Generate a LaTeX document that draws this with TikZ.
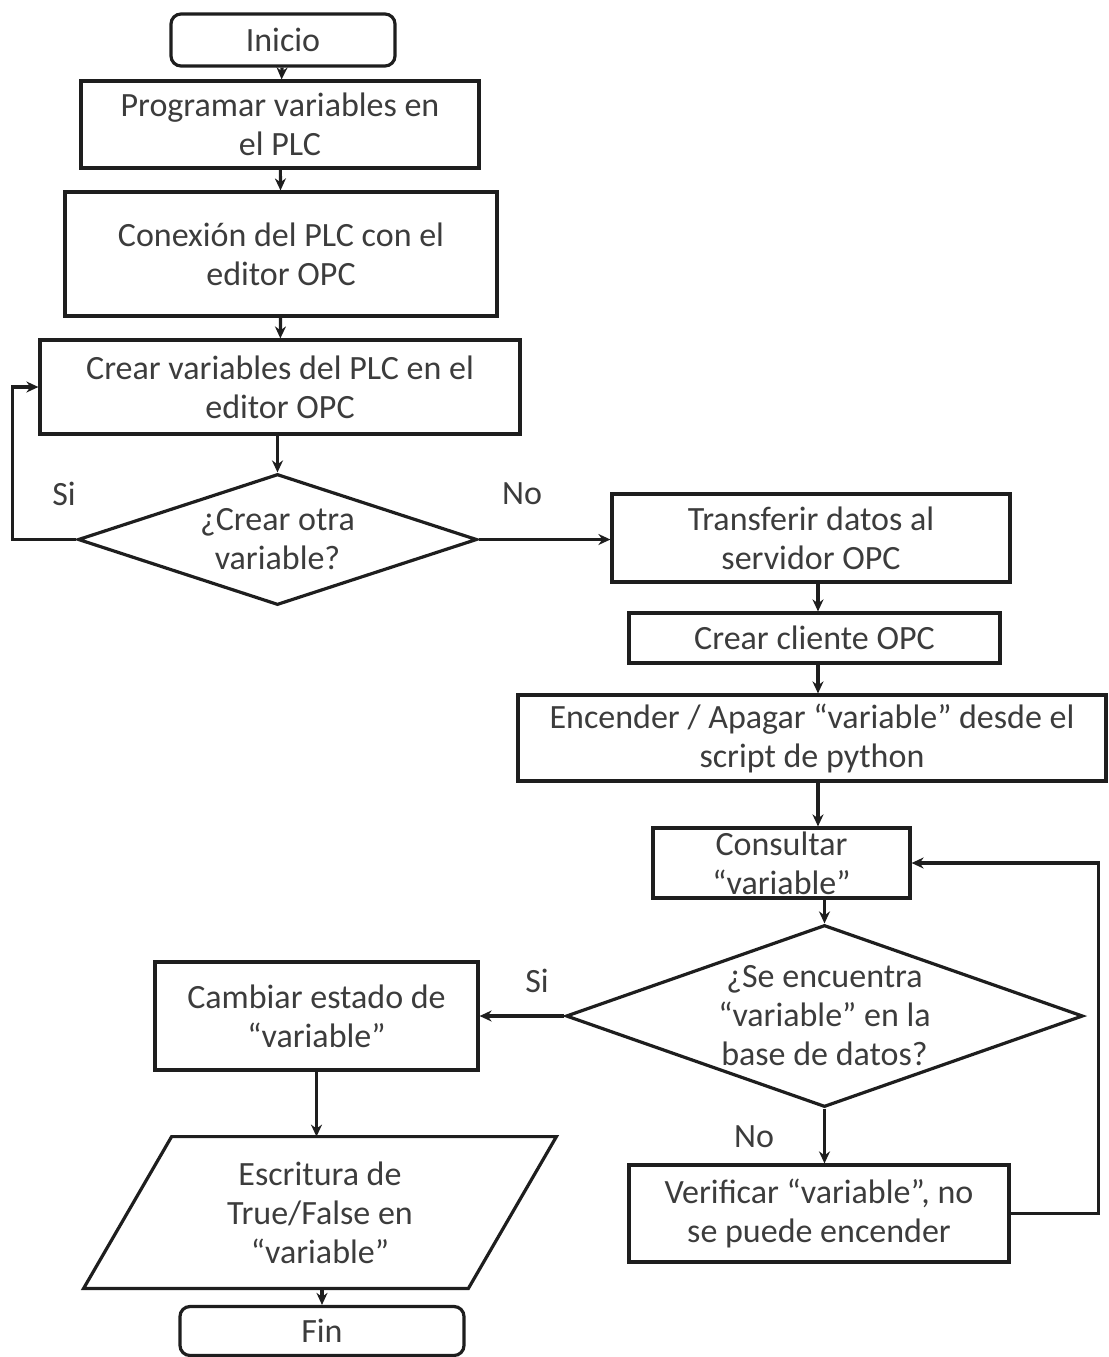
\documentclass[tikz,border=0pt]{standalone}
\usepackage{fontspec}
\setmainfont{Carlito}
\usetikzlibrary{arrows.meta,shapes.geometric}
\definecolor{txtgray}{HTML}{3C3C3C}
\definecolor{linegray}{HTML}{1E1E1E}
\begin{document}
\begin{tikzpicture}[x=0.5pt,y=-0.5pt,
  every node/.style={text=txtgray, font=\fontsize{17pt}{19.5pt}\selectfont, align=center},
  box/.style={draw=linegray, line width=1.6pt, rectangle, inner sep=0pt},
  term/.style={box, rounded corners=5pt},
  decision/.style={draw=linegray, line width=1.6pt, diamond, inner sep=0pt},
  arr/.style={draw=linegray, line width=1.6pt, -{Stealth[length=6pt,width=5.5pt]}},
  lbl/.style={text=txtgray}]
\useasboundingbox (0,0) rectangle (1109,1357);

% left column
\node[term, minimum width=112pt, minimum height=26pt] (ini) at (283,40) {Inicio};
\node[box, minimum width=199pt, minimum height=43.5pt] (prog) at (280,124.5) {Programar variables en\\el PLC};
\node[box, minimum width=216pt, minimum height=62pt] (con) at (281,254) {Conexión del PLC con el\\editor OPC};
\node[box, minimum width=240pt, minimum height=47pt] (crear) at (280,387) {Crear variables del PLC en el\\editor OPC};
\node[decision, minimum width=199.5pt, minimum height=65.5pt] (d1) at (277.5,539.5) {};
\node at (d1) {¿Crear otra\\variable?};

% right column
\node[box, minimum width=199pt, minimum height=44pt] (trans) at (811,538) {Transferir datos al\\servidor OPC};
\node[box, minimum width=185.5pt, minimum height=25pt] (cli) at (814.5,638) {Crear cliente OPC};
\node[box, minimum width=294pt, minimum height=43pt] (enc) at (812,738) {Encender / Apagar “variable” desde el\\script de python};
\node[box, minimum width=128.5pt, minimum height=35pt] (cons) at (781.5,863) {Consultar\\“variable”};
\node[decision, minimum width=258.5pt, minimum height=91pt] (d2) at (824.5,1016) {};
\node at (d2) {¿Se encuentra\\“variable” en la\\base de datos?};
\node[box, minimum width=190pt, minimum height=48.5pt] (ver) at (819,1213.5) {Verificar “variable”, no\\se puede encender};

% lower left branch
\node[box, minimum width=161.5pt, minimum height=54pt] (camb) at (316.5,1016) {Cambiar estado de\\“variable”};
\node[minimum width=192pt, minimum height=75.5pt, inner sep=0pt] (esc) at (320,1212.5) {Escritura de\\True/False en\\“variable”};
\draw[draw=linegray, line width=1.6pt, line join=miter]
  ([xshift=22pt]esc.north west) -- ([xshift=22pt]esc.north east)
  -- ([xshift=-22pt]esc.south east) -- ([xshift=-22pt]esc.south west) -- cycle;
\node[term, minimum width=142pt, minimum height=24.5pt] (fin) at (322,1331) {Fin};

% branch labels
\node[lbl] (si1) at (64,494) {Si};
\node[lbl] (no1) at (522,494) {No};
\node[lbl] (si2) at (537,981) {Si};
\node[lbl] (no2) at (754,1137) {No};

% connectors, left column
\draw[arr] (ini) -- (prog);
\draw[arr] (prog) -- (con);
\draw[arr] (con) -- (crear);
\draw[arr] (crear.south -| d1.north) -- (d1.north);
\draw[arr] (d1.west) -- ++(-64,0) |- (crear.west);
\draw[arr] (d1.east) -- (trans.west |- d1.east);

% connectors, right column
\coordinate (colx) at (818,0);
\draw[arr] (trans.south -| colx) -- (cli.north -| colx);
\draw[arr] (cli.south -| colx) -- (enc.north -| colx);
\draw[arr] (enc.south -| colx) -- (cons.north -| colx);
\draw[arr] (cons.south -| d2.north) -- (d2.north);
\draw[arr] (d2.south) -- (ver.north -| d2.south);
\draw[arr] (ver.east) -- ++(88,0) |- (cons.east);

% connectors, lower left
\draw[arr] (d2.west) -- (camb.east |- d2.west);
\draw[arr] (camb.south) -- (esc.north -| camb.south);
\draw[arr] (esc.south -| fin.north) -- (fin.north);
\end{tikzpicture}
\end{document}
